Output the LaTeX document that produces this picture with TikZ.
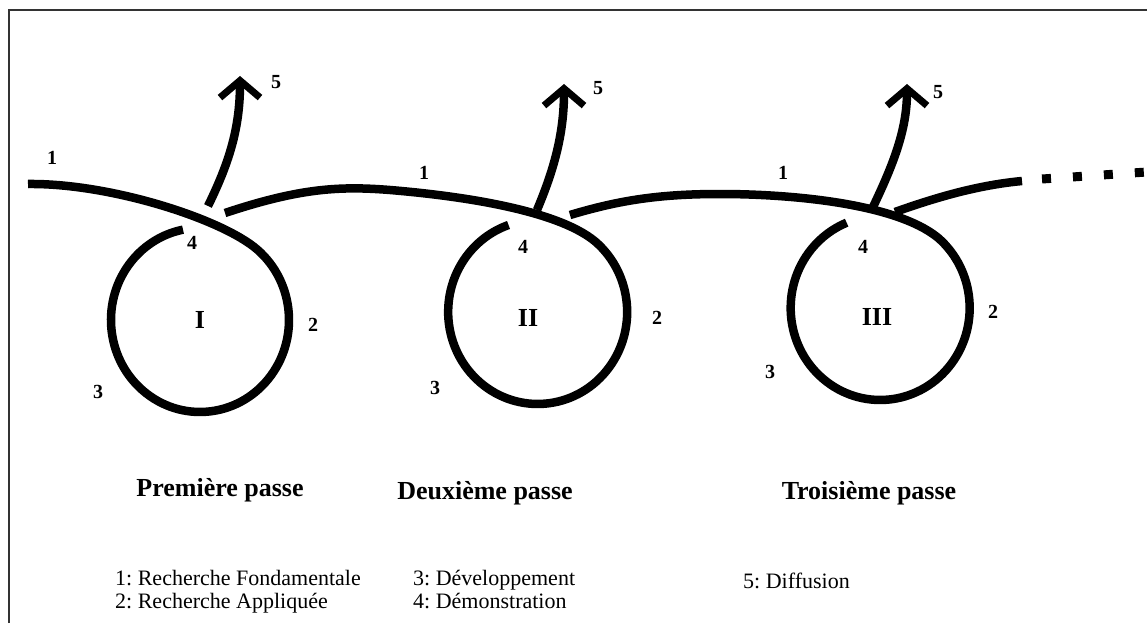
\documentclass[tikz,border=0pt]{standalone}
\usepackage{fontspec}
\setmainfont{Liberation Serif}
\usetikzlibrary{arrows.meta}
\frenchspacing
\begin{document}
\begin{tikzpicture}[x=1pt,y=-1pt,
  flow/.style={line width=8.5pt, line cap=butt},
  outarrow/.style={line width=8.5pt, -{Straight Barb[length=17pt,width=40pt,line width=7pt]}},
  num/.style={font=\fontsize{20}{22}\selectfont\bfseries, inner sep=0pt},
  roman/.style={font=\fontsize{26}{28}\selectfont\bfseries, inner sep=0pt},
  title/.style={font=\fontsize{26}{28}\selectfont\bfseries, inner sep=0pt, anchor=base},
  legend/.style={font=\fontsize{22}{24}\selectfont, inner sep=0pt, anchor=base west},
  frameline/.style={line width=2pt, draw=black!80}]
\useasboundingbox (0,0) rectangle (1147,623);
% frame (left and top only)
\draw[frameline] (9,623) -- (9,10) -- (1147,10);

% named points
\coordinate (s0) at (28,184);
\coordinate (t1) at (257.2,249.5);
\coordinate (o1) at (225,213);
\coordinate (t2) at (595.2,241.5);
\coordinate (o2) at (570,215);
\coordinate (t3) at (937.7,237.5);
\coordinate (o3) at (895,212);
\coordinate (e3) at (1022,181);
\coordinate (d0) at (1042,179);
\coordinate (d1) at (1147,172);
\coordinate (a1) at (208,206);
\coordinate (h1) at (240,76);
\coordinate (a2) at (537,210);
\coordinate (h2) at (564,84);
\coordinate (a3) at (873,207);
\coordinate (h3) at (907,84);

% loop I
\draw[flow] (s0) .. controls (110,183) and (222,219) .. (t1)
  arc[start angle=-50, end angle=259, x radius=89, y radius=92];
% loop II
\draw[flow] (o1) .. controls (300,188) and (340,186) .. (390,190)
  .. controls (450,195) and (555,208) .. (t2)
  arc[start angle=-50, end angle=251, x radius=89.5, y radius=92];
% loop III
\draw[flow] (o2) .. controls (620,200) and (660,194) .. (720,194)
  .. controls (790,194) and (895,203) .. (t3)
  arc[start angle=-50, end angle=248, x radius=89.5, y radius=92];
% exit line and dots
\draw[flow] (o3) .. controls (940,196) and (980,185) .. (e3);
\draw[line width=9pt, dash pattern=on 9pt off 22pt] (d0) -- (d1);

% diffusion arrows
\draw[outarrow] (a1) .. controls (228,165) and (240,130) .. (h1);
\draw[outarrow] (a2) .. controls (556,165) and (564,130) .. (h2);
\draw[outarrow] (a3) .. controls (893,165) and (907,130) .. (h3);

% labels loop I
\node[num] (l1a) at (52,158) {1};
\node[num] (l5a) at (276,82) {5};
\node[num] (l4a) at (192,243) {4};
\node[roman] (ra) at (200,320) {I};
\node[num] (l2a) at (313,325) {2};
\node[num] (l3a) at (98,392) {3};
% labels loop II
\node[num] (l1b) at (424,173) {1};
\node[num] (l5b) at (598,88) {5};
\node[num] (l4b) at (523,247) {4};
\node[roman] (rb) at (528,318) {II};
\node[num] (l2b) at (657,318) {2};
\node[num] (l3b) at (435,388) {3};
% labels loop III
\node[num] (l1c) at (783,173) {1};
\node[num] (l5c) at (938,92) {5};
\node[num] (l4c) at (863,247) {4};
\node[roman] (rc) at (877,317) {III};
\node[num] (l2c) at (993,312) {2};
\node[num] (l3c) at (770,372) {3};

% titles
\node[title] (p1) at (220,496) {Première passe};
\node[title] (p2) at (485,499) {Deuxième passe};
\node[title] (p3) at (869,499) {Troisième passe};

% legend
\node[legend] (g1) at (115,585) {1: Recherche Fondamentale};
\node[legend] (g2) at (115,608) {2: Recherche Appliquée};
\node[legend] (g3) at (413,585) {3: Développement};
\node[legend] (g4) at (413,608) {4: Démonstration};
\node[legend] (g5) at (743,588) {5: Diffusion};
\end{tikzpicture}
\end{document}
